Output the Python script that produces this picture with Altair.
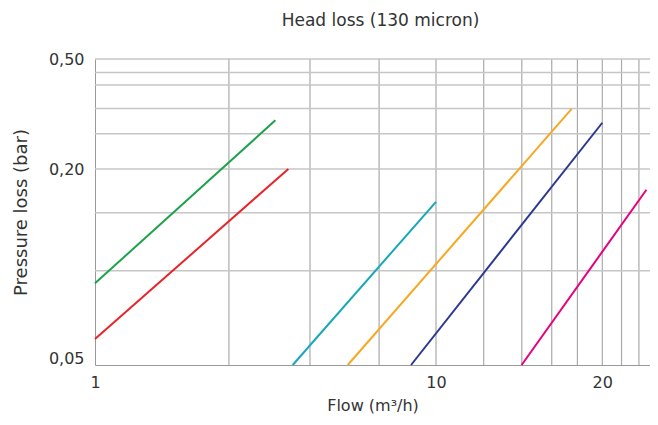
import altair as alt
import pandas as pd

# ---- data ----
SERIES = ["green", "red", "cyan", "orange", "navy", "magenta"]
COLORS = ["#1ca24b", "#e8242b", "#17a8b8", "#f7a823", "#2b3990", "#e6007e"]
FLOW_START = [1.0, 1.0, 3.80, 5.51, 8.45, 14.29]
FLOW_END = [3.38, 3.69, 10.0, 17.6, 20.0, 24.04]
LOSS_START = [0.0891, 0.0601, 0.05, 0.05, 0.05, 0.05]
LOSS_END = [0.300, 0.200, 0.1586, 0.330, 0.294, 0.1727]

X_TICKS = [1, 10, 20]
Y_TICKS = [0.05, 0.20, 0.50]
X_GRID = [2.47, 4.27, 6.81, 10, 12.2, 14.3, 16.2, 18.03, 20, 21.67, 23.3]
Y_GRID = [0.0974, 0.1468, 0.20, 0.2682, 0.3312, 0.4029, 0.4466, 0.50]

# piecewise log scales (the printed chart's axes are not a single log scale)
X_DOMAIN = [1, 10, 24.4]
Y_DOMAIN = [0.05, 0.20, 0.50]

W, H = 555, 306
xscale = alt.Scale(type="log", domain=X_DOMAIN, range=[0, 341, W], nice=False)
yscale = alt.Scale(type="log", domain=Y_DOMAIN, range=[H, H - 196, 0], nice=False)

rows = []
for s, x0, x1, y0, y1 in zip(SERIES, FLOW_START, FLOW_END, LOSS_START, LOSS_END):
    rows.append({"series": s, "flow": x0, "loss": y0, "o": 0})
    rows.append({"series": s, "flow": x1, "loss": y1, "o": 1})
lines_df = pd.DataFrame(rows)

FONT = "DejaVu Sans"
TXT = "#333333"

x_axis = alt.Axis(
    values=X_TICKS, grid=False, ticks=False, domainColor="#999999",
    labelFlush=False,
    labelFont=FONT, labelFontSize=16, labelColor=TXT, labelPadding=9,
    titleFont=FONT, titleFontSize=16, titleFontWeight="normal",
    titleColor=TXT, titlePadding=7,
)
y_axis = alt.Axis(
    values=Y_TICKS, grid=False, ticks=False, domainColor="#999999",
    labelExpr="replace(format(datum.value, '.2f'), '.', ',')",
    labelOffset={"condition": {"test": "datum.value < 0.06", "value": -7}, "value": 0},
    labelFont=FONT, labelFontSize=16, labelColor=TXT, labelPadding=11,
    titleFont=FONT, titleFontSize=18, titleFontWeight="normal",
    titleColor=TXT, titlePadding=18,
)
X_TITLE = "Flow (m³/h)"
Y_TITLE = "Pressure loss (bar)"

vgrid = alt.Chart(pd.DataFrame({"flow": X_GRID})).mark_rule(
    color="#aaaaaa", strokeWidth=1.2
).encode(x=alt.X("flow:Q", scale=xscale, axis=x_axis, title=X_TITLE))

hgrid = alt.Chart(pd.DataFrame({"loss": Y_GRID})).mark_rule(
    color="#c6c6c6", strokeWidth=1.5
).encode(y=alt.Y("loss:Q", scale=yscale, axis=y_axis, title=Y_TITLE))

lines = alt.Chart(lines_df).mark_line(strokeWidth=2).encode(
    x=alt.X("flow:Q", scale=xscale, axis=x_axis, title=X_TITLE),
    y=alt.Y("loss:Q", scale=yscale, axis=y_axis, title=Y_TITLE),
    color=alt.Color("series:N", scale=alt.Scale(domain=SERIES, range=COLORS), legend=None),
    order="o:Q",
)

chart = alt.layer(vgrid, hgrid, lines).properties(
    width=W,
    height=H,
    title=alt.TitleParams(
        "Head loss (130 micron)", font=FONT, fontSize=17, fontWeight="normal",
        color=TXT, offset=21, dx=8,
    ),
    autosize=alt.AutoSizeParams(type="none"),
    padding={"left": 87, "top": 51, "right": 0, "bottom": 52},
).configure_view(stroke=None)

chart.save("out.html", embed_options={"renderer": "svg", "actions": False})
